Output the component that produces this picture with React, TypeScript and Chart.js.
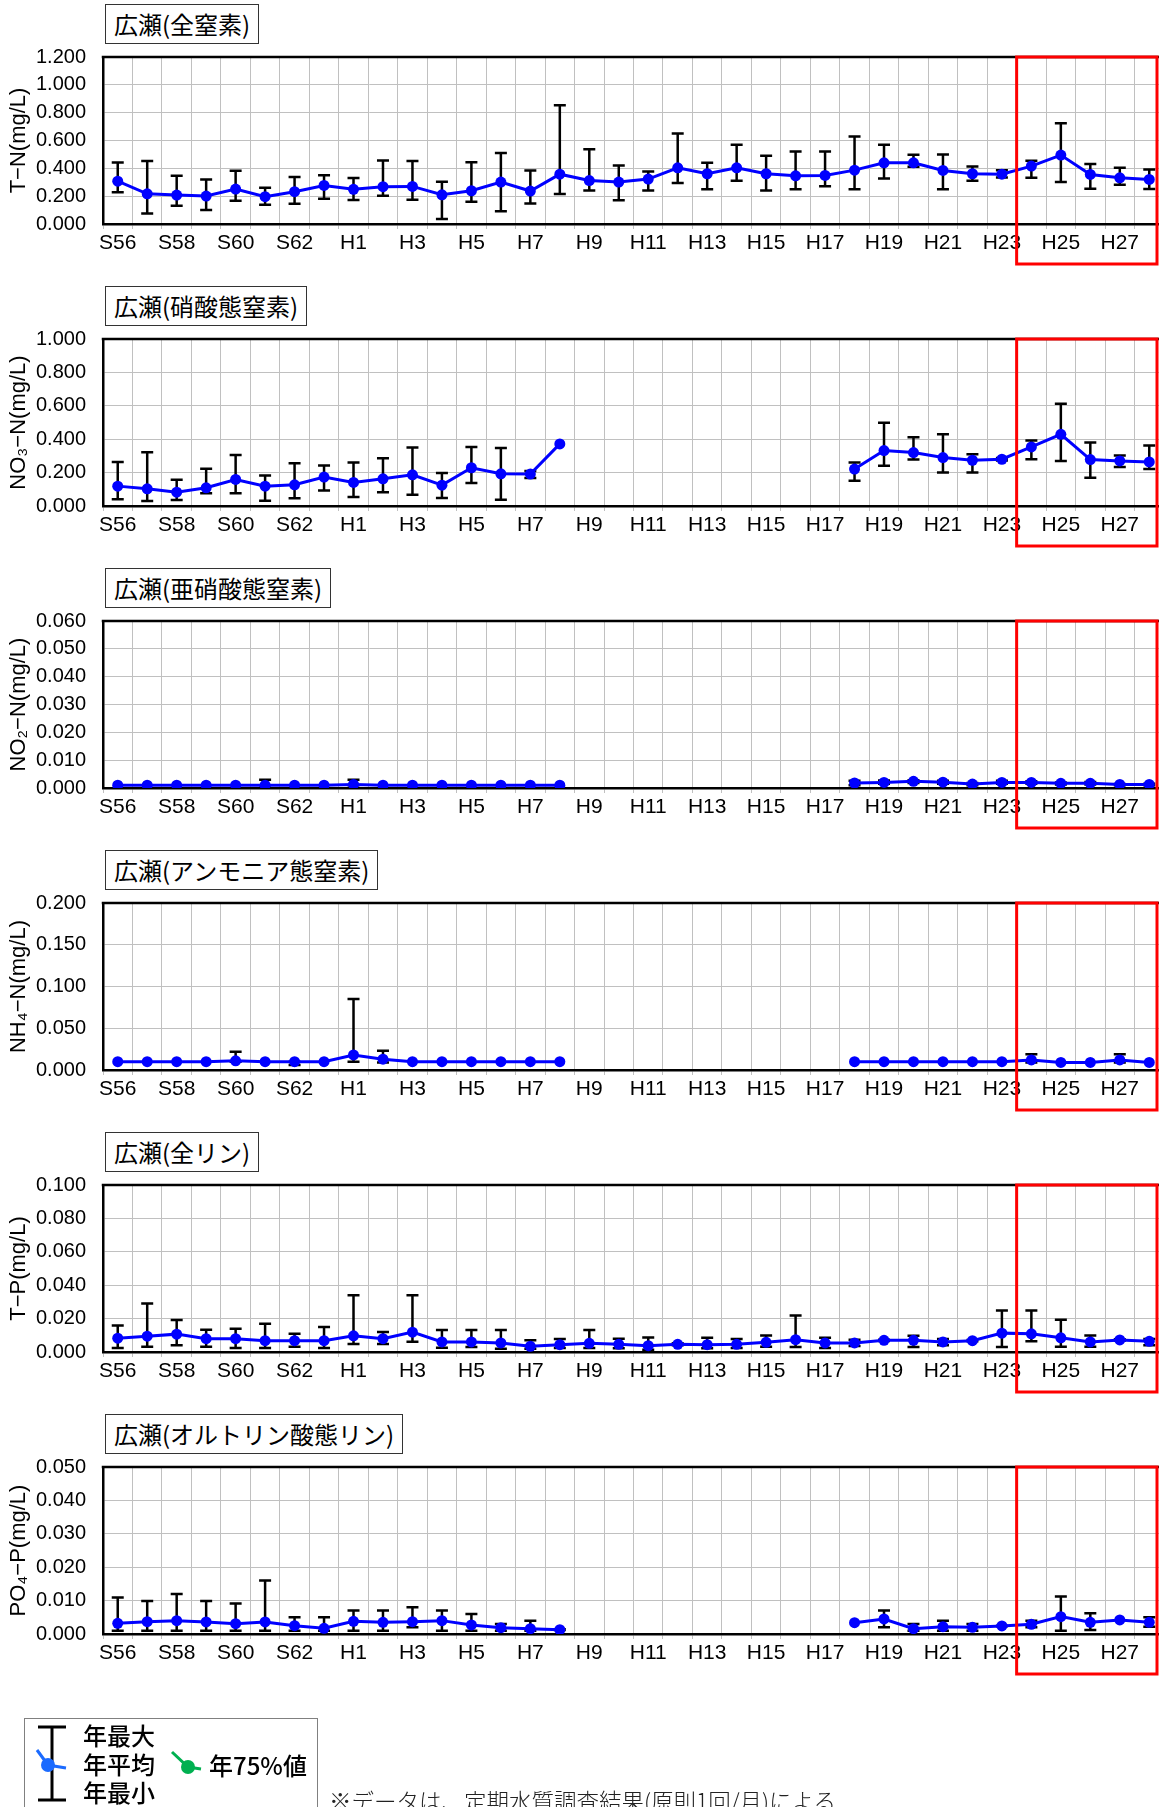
import React, { useEffect, useRef } from 'react';
import { Chart, registerables } from 'chart.js';

Chart.register(...registerables);

// ---------- categories / tick labels ----------
const YEARS = [
  'S56', 'S57', 'S58', 'S59', 'S60', 'S61', 'S62', 'S63',
  'H1', 'H2', 'H3', 'H4', 'H5', 'H6', 'H7', 'H8', 'H9', 'H10',
  'H11', 'H12', 'H13', 'H14', 'H15', 'H16', 'H17', 'H18', 'H19', 'H20',
  'H21', 'H22', 'H23', 'H24', 'H25', 'H26', 'H27', 'H28',
];
const HIGHLIGHT_START = 'H24';

const N = null;

// ---------- T-N ----------
const TN_MEAN = [0.308, 0.217, 0.208, 0.201, 0.251, 0.196, 0.232, 0.277, 0.249, 0.268, 0.270, 0.210, 0.239, 0.301, 0.237, 0.358, 0.312, 0.301, 0.323, 0.404, 0.361, 0.404, 0.361, 0.346, 0.349, 0.387, 0.440, 0.440, 0.385, 0.361, 0.358, 0.416, 0.495, 0.356, 0.332, 0.320];
const TN_MAX = [0.442, 0.452, 0.346, 0.320, 0.382, 0.260, 0.337, 0.351, 0.330, 0.456, 0.452, 0.303, 0.444, 0.511, 0.385, 0.853, 0.538, 0.421, 0.378, 0.650, 0.440, 0.569, 0.490, 0.521, 0.521, 0.628, 0.569, 0.497, 0.499, 0.413, 0.387, 0.454, 0.724, 0.432, 0.404, 0.392];
const TN_MIN = [0.229, 0.076, 0.131, 0.100, 0.167, 0.139, 0.146, 0.182, 0.172, 0.203, 0.174, 0.036, 0.160, 0.091, 0.148, 0.215, 0.241, 0.170, 0.241, 0.294, 0.249, 0.311, 0.241, 0.249, 0.272, 0.249, 0.327, 0.411, 0.249, 0.311, 0.335, 0.332, 0.301, 0.253, 0.282, 0.251];

// ---------- NO3-N ----------
const NO3_MEAN = [0.119, 0.103, 0.083, 0.109, 0.159, 0.119, 0.127, 0.173, 0.141, 0.163, 0.187, 0.125, 0.229, 0.193, 0.191, 0.372, N, N, N, N, N, N, N, N, N, 0.221, 0.332, 0.320, 0.290, 0.274, 0.280, 0.354, 0.429, 0.278, 0.270, 0.264];
const NO3_MAX = [0.264, 0.322, 0.157, 0.223, 0.306, 0.183, 0.256, 0.243, 0.260, 0.286, 0.350, 0.197, 0.354, 0.348, 0.209, 0.372, N, N, N, N, N, N, N, N, N, 0.260, 0.499, 0.412, 0.429, 0.310, 0.288, 0.392, 0.612, 0.380, 0.302, 0.362];
const NO3_MIN = [0.040, 0.030, 0.036, 0.076, 0.076, 0.032, 0.046, 0.093, 0.054, 0.082, 0.068, 0.048, 0.137, 0.038, 0.167, 0.372, N, N, N, N, N, N, N, N, N, 0.151, 0.241, 0.278, 0.201, 0.201, 0.272, 0.280, 0.270, 0.169, 0.233, 0.221];

// ---------- NO2-N ----------
const NO2_MEAN = [0.001, 0.001, 0.001, 0.001, 0.001, 0.001, 0.001, 0.001, 0.0013, 0.001, 0.001, 0.001, 0.001, 0.001, 0.001, 0.001, N, N, N, N, N, N, N, N, N, 0.0018, 0.002, 0.0024, 0.0021, 0.0014, 0.002, 0.002, 0.0017, 0.0017, 0.0013, 0.0013];
const NO2_MAX = [0.001, 0.001, 0.001, 0.001, 0.001, 0.003, 0.001, 0.001, 0.003, 0.001, 0.001, 0.001, 0.001, 0.001, 0.001, 0.001, N, N, N, N, N, N, N, N, N, 0.0026, 0.0027, 0.0028, 0.0026, 0.0018, 0.0026, 0.0024, 0.002, 0.0022, 0.0014, 0.0015];
const NO2_MIN = [0.001, 0.001, 0.001, 0.001, 0.001, 0.001, 0.001, 0.001, 0.001, 0.001, 0.001, 0.001, 0.001, 0.001, 0.001, 0.001, N, N, N, N, N, N, N, N, N, 0.001, 0.0015, 0.0018, 0.0015, 0.001, 0.0015, 0.0015, 0.0013, 0.0013, 0.001, 0.001];

// ---------- NH4-N ----------
const NH4_MEAN = [0.01, 0.01, 0.01, 0.01, 0.011, 0.01, 0.01, 0.01, 0.018, 0.013, 0.01, 0.01, 0.01, 0.01, 0.01, 0.01, N, N, N, N, N, N, N, N, N, 0.01, 0.01, 0.01, 0.01, 0.01, 0.01, 0.012, 0.009, 0.009, 0.012, 0.009];
const NH4_MAX = [0.01, 0.01, 0.01, 0.01, 0.022, 0.01, 0.01, 0.01, 0.085, 0.023, 0.01, 0.01, 0.01, 0.01, 0.01, 0.01, N, N, N, N, N, N, N, N, N, 0.01, 0.01, 0.01, 0.01, 0.01, 0.01, 0.019, 0.009, 0.009, 0.019, 0.009];
const NH4_MIN = [0.01, 0.01, 0.01, 0.01, 0.01, 0.01, 0.006, 0.01, 0.01, 0.009, 0.01, 0.01, 0.01, 0.01, 0.01, 0.01, N, N, N, N, N, N, N, N, N, 0.01, 0.01, 0.01, 0.01, 0.01, 0.01, 0.009, 0.009, 0.009, 0.009, 0.009];

// ---------- T-P ----------
const TP_MEAN = [0.0083, 0.0095, 0.0107, 0.0080, 0.0080, 0.0068, 0.0068, 0.0068, 0.0097, 0.0080, 0.0119, 0.0060, 0.0060, 0.0054, 0.0034, 0.0044, 0.0052, 0.0046, 0.0038, 0.0046, 0.0044, 0.0046, 0.0058, 0.0074, 0.0054, 0.0054, 0.0070, 0.0070, 0.0060, 0.0068, 0.0113, 0.0109, 0.0085, 0.0060, 0.0072, 0.0064];
const TP_MAX = [0.0159, 0.0290, 0.0191, 0.0133, 0.0139, 0.0169, 0.0110, 0.0149, 0.0340, 0.0120, 0.0340, 0.0131, 0.0131, 0.0131, 0.0070, 0.0078, 0.0131, 0.0080, 0.0087, 0.0052, 0.0085, 0.0078, 0.0099, 0.0219, 0.0085, 0.0074, 0.0074, 0.0097, 0.0078, 0.0072, 0.0249, 0.0249, 0.0193, 0.0099, 0.0076, 0.0078];
const TP_MIN = [0.0024, 0.0032, 0.0040, 0.0032, 0.0024, 0.0024, 0.0032, 0.0024, 0.0048, 0.0048, 0.0062, 0.0026, 0.0030, 0.0020, 0.0020, 0.0024, 0.0024, 0.0022, 0.0014, 0.0040, 0.0022, 0.0024, 0.0032, 0.0030, 0.0024, 0.0036, 0.0066, 0.0030, 0.0040, 0.0064, 0.0030, 0.0064, 0.0032, 0.0032, 0.0068, 0.0040];

// ---------- PO4-P ----------
const PO4_MEAN = [0.0032, 0.0037, 0.0040, 0.0036, 0.0031, 0.0036, 0.0025, 0.0017, 0.0038, 0.0035, 0.0037, 0.0040, 0.0027, 0.0019, 0.0016, 0.0013, N, N, N, N, N, N, N, N, N, 0.0034, 0.0045, 0.0016, 0.0022, 0.0020, 0.0024, 0.0029, 0.0052, 0.0035, 0.0042, 0.0035];
const PO4_MAX = [0.0109, 0.0099, 0.0120, 0.0099, 0.0091, 0.0160, 0.0050, 0.0050, 0.0070, 0.0070, 0.0080, 0.0070, 0.0060, 0.0030, 0.0040, 0.0014, N, N, N, N, N, N, N, N, N, 0.0034, 0.0070, 0.0030, 0.0040, 0.0030, 0.0025, 0.0040, 0.0112, 0.0062, 0.0042, 0.0050];
const PO4_MIN = [0.0010, 0.0010, 0.0010, 0.0010, 0.0010, 0.0010, 0.0010, 0.0010, 0.0010, 0.0010, 0.0020, 0.0010, 0.0010, 0.0010, 0.0010, 0.0012, N, N, N, N, N, N, N, N, N, 0.0034, 0.0020, 0.0010, 0.0010, 0.0010, 0.0023, 0.0020, 0.0010, 0.0012, 0.0042, 0.0022];

type Series = (number | null)[];
interface Spec {
  title: string;
  yTitle: string;
  yMax: number;
  yStep: number;
  mean: Series;
  max: Series;
  min: Series;
}

const SPECS: Spec[] = [
  { title: '広瀬(全窒素)', yTitle: 'T−N(mg/L)', yMax: 1.2, yStep: 0.2, mean: TN_MEAN, max: TN_MAX, min: TN_MIN },
  { title: '広瀬(硝酸態窒素)', yTitle: 'NO₃−N(mg/L)', yMax: 1.0, yStep: 0.2, mean: NO3_MEAN, max: NO3_MAX, min: NO3_MIN },
  { title: '広瀬(亜硝酸態窒素)', yTitle: 'NO₂−N(mg/L)', yMax: 0.06, yStep: 0.01, mean: NO2_MEAN, max: NO2_MAX, min: NO2_MIN },
  { title: '広瀬(アンモニア態窒素)', yTitle: 'NH₄−N(mg/L)', yMax: 0.2, yStep: 0.05, mean: NH4_MEAN, max: NH4_MAX, min: NH4_MIN },
  { title: '広瀬(全リン)', yTitle: 'T−P(mg/L)', yMax: 0.1, yStep: 0.02, mean: TP_MEAN, max: TP_MAX, min: TP_MIN },
  { title: '広瀬(オルトリン酸態リン)', yTitle: 'PO₄−P(mg/L)', yMax: 0.05, yStep: 0.01, mean: PO4_MEAN, max: PO4_MAX, min: PO4_MIN },
];

const BLOCK_H = 282;
const CANVAS_W = 1170;
const FAMILY = "'Liberation Sans', Arial, 'DejaVu Sans', sans-serif";
const Y_TICK_FONT = { family: FAMILY, size: 20 };
const X_TICK_FONT = { family: FAMILY, size: 21 };
const Y_TITLE_FONT = { family: FAMILY, size: 22 };

function WaterChart({ spec, top }: { spec: Spec; top: number }) {
  const ref = useRef<HTMLCanvasElement | null>(null);

  useEffect(() => {
    const canvas = ref.current;
    if (!canvas) return;

    const errorBars = {
      id: 'errorBars',
      beforeDatasetsDraw(chart: any) {
        const { ctx, scales } = chart;
        const x = scales.x;
        const y = scales.y;
        ctx.save();
        ctx.strokeStyle = '#000';
        ctx.lineWidth = 2.5;
        spec.mean.forEach((m, i) => {
          const hi = spec.max[i];
          const lo = spec.min[i];
          if (m == null || hi == null || lo == null) return;
          if (Math.abs(hi - lo) < 1e-9) return;
          const px = x.getPixelForValue(i);
          const yh = y.getPixelForValue(hi);
          const yl = y.getPixelForValue(lo);
          ctx.beginPath();
          ctx.moveTo(px, yh);
          ctx.lineTo(px, yl);
          ctx.moveTo(px - 6, yh);
          ctx.lineTo(px + 6, yh);
          ctx.moveTo(px - 6, yl);
          ctx.lineTo(px + 6, yl);
          ctx.stroke();
        });
        ctx.restore();
      },
    };

    const frame = {
      id: 'frame',
      afterDraw(chart: any) {
        const { ctx, chartArea, scales } = chart;
        const x = scales.x;
        ctx.save();
        ctx.strokeStyle = '#000';
        ctx.lineWidth = 2.5;
        ctx.beginPath();
        ctx.moveTo(chartArea.left - 1.25, chartArea.top);
        ctx.lineTo(chartArea.right, chartArea.top);
        ctx.stroke();
        const hi = YEARS.indexOf(HIGHLIGHT_START);
        const left = (x.getPixelForValue(hi - 1) + x.getPixelForValue(hi)) / 2;
        const right = chart.width - 13;
        ctx.strokeStyle = '#ff0000';
        ctx.lineWidth = 3;
        ctx.strokeRect(left, chartArea.top, right - left, chartArea.bottom + 40 - chartArea.top);
        ctx.restore();
      },
    };

    const chart = new Chart(canvas, {
      type: 'line',
      data: {
        labels: YEARS,
        datasets: [
          {
            data: spec.mean as any,
            borderColor: '#0000ff',
            backgroundColor: '#0000ff',
            borderWidth: 3,
            pointRadius: 5.5,
            pointBackgroundColor: '#0000ff',
            pointBorderWidth: 0,
            spanGaps: false,
            tension: 0,
          },
        ],
      },
      options: {
        animation: false,
        responsive: false,
        devicePixelRatio: 1,
        events: [],
        layout: { padding: { top: 57, right: 6, bottom: 0, left: 0 } },
        plugins: { legend: { display: false }, tooltip: { enabled: false } },
        scales: {
          x: {
            type: 'category',
            offset: true,
            grid: { offset: true, color: '#c0c0c0', lineWidth: 1, drawTicks: true, tickLength: 5 },
            border: { color: '#000', width: 2.5 },
            ticks: {
              autoSkip: false,
              maxRotation: 0,
              minRotation: 0,
              padding: 2,
              color: '#000',
              font: X_TICK_FONT,
              callback: (_v: any, i: number) => (i % 2 === 0 ? YEARS[i] : ''),
            },
            afterFit: (s: any) => {
              s.height = 58;
            },
          },
          y: {
            min: 0,
            max: spec.yMax,
            grid: { color: '#c0c0c0', lineWidth: 1, drawTicks: false },
            border: { color: '#000', width: 2.5 },
            ticks: {
              stepSize: spec.yStep,
              padding: 17,
              color: '#000',
              font: Y_TICK_FONT,
              callback: (v: any) => Number(v).toFixed(3),
            },
            title: {
              display: true,
              text: spec.yTitle,
              color: '#000',
              font: Y_TITLE_FONT,
              padding: { top: 6, bottom: 0 },
            },
            afterFit: (s: any) => {
              s.width = 103;
            },
          },
        },
      } as any,
      plugins: [errorBars, frame],
    });

    return () => chart.destroy();
  }, [spec]);

  return (
    <div style={{ position: 'absolute', left: 0, top, width: CANVAS_W, height: BLOCK_H }}>
      <canvas ref={ref} width={CANVAS_W} height={BLOCK_H} style={{ width: CANVAS_W, height: BLOCK_H, display: 'block' }} />
      <div
        style={{
          position: 'absolute',
          left: 105,
          top: 4,
          height: 40,
          boxSizing: 'border-box',
          border: '1px solid #333',
          padding: '0 8px',
          font: "24px 'Noto Sans CJK JP', sans-serif",
          lineHeight: '38px',
          color: '#000',
          background: '#fff',
          whiteSpace: 'nowrap',
        }}
      >
        {spec.title}
      </div>
    </div>
  );
}

function Legend() {
  const jp = "'Noto Sans CJK JP', sans-serif";
  return (
    <svg
      width={1159}
      height={117}
      style={{ position: 'absolute', left: 0, top: 1690, display: 'block' }}
    >
      <rect x={24.5} y={28.5} width={293} height={120} fill="#fff" stroke="#808080" strokeWidth={1} />
      <g stroke="#000" strokeWidth={3}>
        <line x1={52} y1={37} x2={52} y2={110} />
        <line x1={38} y1={37} x2={66} y2={37} />
        <line x1={38} y1={110} x2={66} y2={110} />
      </g>
      <polyline points="37,60 48,75 66,78" fill="none" stroke="#1b6bff" strokeWidth={3} />
      <circle cx={48} cy={75} r={7} fill="#1b6bff" />
      <polyline points="172,62 188,77 201,79" fill="none" stroke="#00b050" strokeWidth={3} />
      <circle cx={188} cy={77} r={7} fill="#00b050" />
      <g fontFamily={jp} fontSize={24} fontWeight={500} fill="#000" dominantBaseline="central">
        <text x={83} y={44}>年最大</text>
        <text x={83} y={73}>年平均</text>
        <text x={209} y={74}>年75%値</text>
        <text x={83} y={101}>年最小</text>
      </g>
      <text x={329} y={110} fontFamily={jp} fontSize={22.5} fontWeight={300} fill="#222" dominantBaseline="central">
        ※データは、定期水質調査結果(原則1回/月)による
      </text>
    </svg>
  );
}

export default function App() {
  return (
    <div
      style={{
        position: 'absolute',
        left: 0,
        top: 0,
        width: 1159,
        height: 1807,
        overflow: 'hidden',
        background: '#fff',
      }}
    >
      {SPECS.map((s, i) => (
        <WaterChart key={i} spec={s} top={i * BLOCK_H} />
      ))}
      <Legend />
    </div>
  );
}
